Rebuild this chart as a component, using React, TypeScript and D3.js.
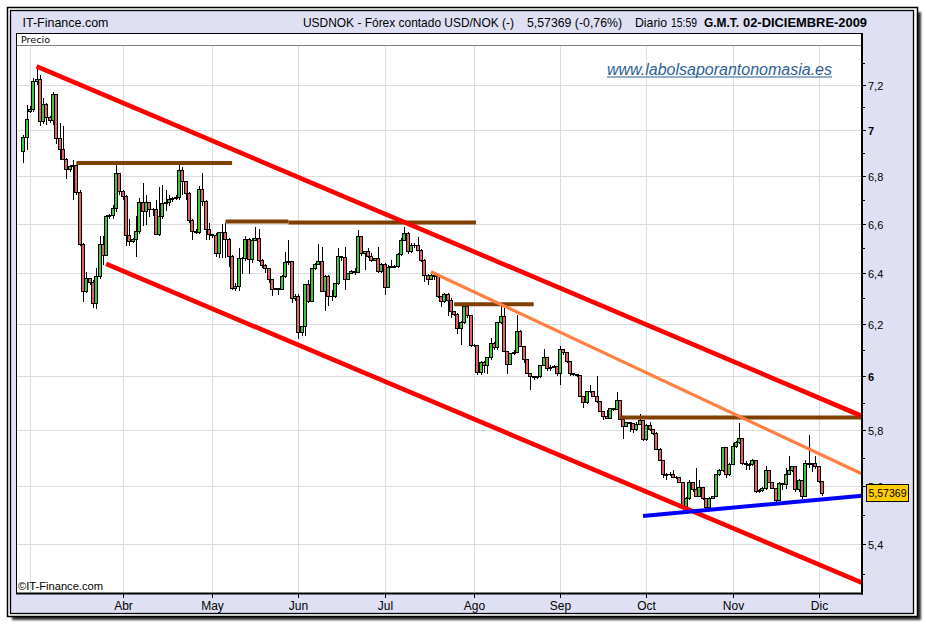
import { useEffect, useRef } from "react";
import * as d3 from "d3";

// open, high, low, close
type Candle = [number, number, number, number];

// USD/NOK daily candles, grouped by month
const febMar: Candle[] = [
  [6.904, 6.977, 6.856, 6.966], [6.966, 7.112, 6.914, 7.047], [7.08, 7.105, 7.076, 7.09],
  [7.09, 7.23, 7.08, 7.215], [7.215, 7.285, 7.2, 7.225], [7.225, 7.244, 7.017, 7.036],
  [7.036, 7.14, 7.025, 7.112], [7.112, 7.12, 7.02, 7.054], [7.054, 7.06, 7.03, 7.04],
  [7.04, 7.17, 7.02, 7.156], [7.156, 7.16, 6.94, 6.962], [6.962, 7.03, 6.87, 6.915],
  [6.915, 7.017, 6.87, 6.873], [6.873, 6.88, 6.79, 6.83], [6.83, 6.85, 6.82, 6.84],
  [6.84, 6.87, 6.7, 6.845], [6.845, 6.85, 6.72, 6.731], [6.731, 6.74, 6.51, 6.514],
  [6.514, 6.52, 6.284, 6.327], [6.327, 6.404, 6.318, 6.377], [6.377, 6.38, 6.35, 6.36],
  [6.36, 6.37, 6.26, 6.277], [6.277, 6.42, 6.257, 6.384], [6.384, 6.55, 6.377, 6.517],
  [6.517, 6.55, 6.43, 6.47], [6.47, 6.635, 6.467, 6.629], [6.629, 6.64, 6.62, 6.635],
  [6.635, 6.68, 6.62, 6.665], [6.665, 6.846, 6.65, 6.811], [6.811, 6.812, 6.72, 6.735],
];
const abr: Candle[] = [
  [6.735, 6.74, 6.7, 6.712], [6.712, 6.72, 6.508, 6.552], [6.552, 6.62, 6.508, 6.528],
  [6.528, 6.54, 6.52, 6.535], [6.535, 6.632, 6.466, 6.57], [6.57, 6.708, 6.56, 6.687],
  [6.687, 6.77, 6.59, 6.652], [6.652, 6.721, 6.597, 6.687], [6.687, 6.69, 6.63, 6.66],
  [6.66, 6.666, 6.632, 6.659], [6.659, 6.701, 6.556, 6.556], [6.556, 6.756, 6.549, 6.629],
  [6.629, 6.763, 6.62, 6.683], [6.683, 6.742, 6.652, 6.69], [6.69, 6.721, 6.673, 6.701],
  [6.701, 6.71, 6.69, 6.705], [6.705, 6.72, 6.698, 6.71], [6.71, 6.849, 6.698, 6.824],
  [6.824, 6.838, 6.721, 6.777], [6.777, 6.78, 6.7, 6.726], [6.726, 6.735, 6.604, 6.614],
  [6.614, 6.618, 6.535, 6.57], [6.57, 6.58, 6.556, 6.563], [6.563, 6.76, 6.556, 6.742],
  [6.742, 6.812, 6.673, 6.694], [6.694, 6.701, 6.535, 6.577], [6.577, 6.604, 6.535, 6.556],
];
const may: Candle[] = [
  [6.556, 6.56, 6.54, 6.55], [6.55, 6.563, 6.466, 6.48], [6.48, 6.566, 6.459, 6.563],
  [6.563, 6.6, 6.46, 6.566], [6.566, 6.604, 6.459, 6.535], [6.535, 6.542, 6.425, 6.466],
  [6.466, 6.473, 6.333, 6.339], [6.339, 6.36, 6.326, 6.346], [6.346, 6.5, 6.326, 6.459],
  [6.459, 6.466, 6.397, 6.46], [6.46, 6.55, 6.446, 6.535], [6.535, 6.542, 6.397, 6.455],
  [6.455, 6.54, 6.44, 6.532], [6.532, 6.586, 6.53, 6.539], [6.539, 6.58, 6.445, 6.451],
  [6.451, 6.455, 6.42, 6.431], [6.431, 6.435, 6.4, 6.418], [6.418, 6.42, 6.36, 6.372],
  [6.372, 6.375, 6.307, 6.333], [6.333, 6.34, 6.33, 6.336], [6.336, 6.34, 6.314, 6.335],
  [6.335, 6.39, 6.33, 6.385], [6.385, 6.485, 6.38, 6.441], [6.441, 6.532, 6.43, 6.445],
  [6.445, 6.448, 6.281, 6.297], [6.297, 6.316, 6.29, 6.307],
];
const jun: Candle[] = [
  [6.307, 6.316, 6.139, 6.165], [6.165, 6.19, 6.152, 6.187], [6.187, 6.356, 6.152, 6.352],
  [6.352, 6.372, 6.28, 6.288], [6.288, 6.42, 6.285, 6.418], [6.418, 6.44, 6.41, 6.435],
  [6.435, 6.519, 6.43, 6.445], [6.445, 6.505, 6.326, 6.326], [6.326, 6.39, 6.249, 6.385],
  [6.385, 6.39, 6.268, 6.307], [6.307, 6.33, 6.29, 6.305], [6.305, 6.36, 6.3, 6.356],
  [6.356, 6.499, 6.35, 6.465], [6.465, 6.47, 6.45, 6.462], [6.462, 6.505, 6.333, 6.374],
  [6.374, 6.4, 6.37, 6.397], [6.397, 6.41, 6.395, 6.404], [6.404, 6.418, 6.391, 6.401],
  [6.401, 6.573, 6.4, 6.549], [6.549, 6.549, 6.47, 6.478], [6.478, 6.49, 6.411, 6.485],
  [6.485, 6.5, 6.46, 6.465], [6.465, 6.48, 6.445, 6.451], [6.451, 6.46, 6.45, 6.458],
  [6.458, 6.505, 6.4, 6.404], [6.404, 6.44, 6.4, 6.435],
];
const jul: Candle[] = [
  [6.435, 6.44, 6.314, 6.343], [6.343, 6.43, 6.34, 6.422], [6.422, 6.451, 6.418, 6.424],
  [6.424, 6.43, 6.418, 6.424], [6.424, 6.48, 6.42, 6.476], [6.476, 6.54, 6.47, 6.532],
  [6.532, 6.586, 6.53, 6.559], [6.559, 6.566, 6.478, 6.485], [6.485, 6.52, 6.48, 6.51],
  [6.51, 6.52, 6.5, 6.512], [6.512, 6.545, 6.49, 6.492], [6.492, 6.495, 6.445, 6.451],
  [6.451, 6.455, 6.365, 6.391], [6.391, 6.395, 6.35, 6.372], [6.372, 6.395, 6.37, 6.391],
  [6.391, 6.395, 6.37, 6.385], [6.385, 6.39, 6.3, 6.307], [6.307, 6.31, 6.266, 6.288],
  [6.288, 6.32, 6.28, 6.314], [6.314, 6.32, 6.23, 6.29], [6.29, 6.3, 6.222, 6.246],
  [6.246, 6.25, 6.23, 6.236], [6.236, 6.24, 6.158, 6.181], [6.181, 6.21, 6.119, 6.205],
  [6.205, 6.27, 6.2, 6.268], [6.268, 6.282, 6.22, 6.232], [6.232, 6.235, 6.11, 6.117],
];
const ago: Candle[] = [
  [6.117, 6.12, 6.11, 6.115], [6.115, 6.119, 6.004, 6.013], [6.013, 6.055, 6.005, 6.051],
  [6.051, 6.055, 6.01, 6.04], [6.04, 6.07, 6.008, 6.068], [6.068, 6.145, 6.06, 6.122],
  [6.122, 6.128, 6.1, 6.106], [6.106, 6.205, 6.1, 6.203], [6.203, 6.268, 6.2, 6.229],
  [6.229, 6.26, 6.09, 6.094], [6.094, 6.094, 6.008, 6.042], [6.042, 6.085, 6.04, 6.083],
  [6.083, 6.1, 6.08, 6.09], [6.09, 6.232, 6.085, 6.168], [6.168, 6.177, 6.11, 6.113],
  [6.113, 6.113, 6.049, 6.062], [6.062, 6.065, 6.008, 6.01], [6.01, 6.012, 5.948, 5.998],
  [5.998, 6.0, 5.985, 5.994], [5.994, 6.0, 5.99, 5.998], [5.998, 6.04, 5.991, 6.038],
  [6.038, 6.103, 6.036, 6.068], [6.068, 6.07, 6.02, 6.029], [6.029, 6.04, 6.02, 6.033],
  [6.033, 6.04, 6.03, 6.036], [6.036, 6.038, 6.0, 6.01],
];
const sep: Candle[] = [
  [6.01, 6.115, 5.967, 6.1], [6.1, 6.1, 6.08, 6.087], [6.087, 6.087, 6.05, 6.055],
  [6.055, 6.055, 6.0, 6.008], [6.008, 6.008, 5.998, 6.004], [6.004, 6.005, 5.995, 6.0],
  [6.0, 6.0, 5.92, 5.923], [5.923, 5.923, 5.88, 5.899], [5.899, 5.945, 5.895, 5.942],
  [5.942, 5.967, 5.935, 5.94], [5.94, 5.942, 5.92, 5.923], [5.923, 5.998, 5.9, 5.905],
  [5.905, 5.905, 5.865, 5.868], [5.868, 5.868, 5.837, 5.849], [5.849, 5.874, 5.84, 5.843],
  [5.843, 5.88, 5.84, 5.877], [5.877, 5.88, 5.87, 5.875], [5.875, 5.938, 5.875, 5.909],
  [5.909, 5.909, 5.835, 5.839], [5.839, 5.839, 5.769, 5.812], [5.812, 5.83, 5.81, 5.827],
  [5.827, 5.83, 5.794, 5.825], [5.825, 5.825, 5.79, 5.8], [5.8, 5.83, 5.795, 5.82],
  [5.82, 5.857, 5.818, 5.836], [5.836, 5.836, 5.76, 5.764],
];
const oct: Candle[] = [
  [5.764, 5.82, 5.76, 5.818], [5.818, 5.83, 5.795, 5.8], [5.8, 5.8, 5.782, 5.788],
  [5.788, 5.794, 5.728, 5.731], [5.731, 5.735, 5.688, 5.691], [5.691, 5.691, 5.627, 5.639],
  [5.639, 5.645, 5.621, 5.64], [5.64, 5.65, 5.635, 5.642], [5.642, 5.657, 5.627, 5.631],
  [5.631, 5.635, 5.625, 5.63], [5.63, 5.631, 5.61, 5.612], [5.612, 5.612, 5.52, 5.526],
  [5.526, 5.56, 5.52, 5.556], [5.556, 5.621, 5.55, 5.612], [5.612, 5.612, 5.58, 5.586],
  [5.586, 5.663, 5.56, 5.562], [5.562, 5.621, 5.56, 5.595], [5.595, 5.595, 5.55, 5.556],
  [5.556, 5.556, 5.517, 5.524], [5.524, 5.56, 5.52, 5.556], [5.556, 5.565, 5.555, 5.562],
  [5.562, 5.64, 5.56, 5.639], [5.639, 5.66, 5.635, 5.654], [5.654, 5.74, 5.65, 5.735],
  [5.735, 5.735, 5.627, 5.639], [5.639, 5.68, 5.635, 5.675],
];
const nov: Candle[] = [
  [5.675, 5.752, 5.675, 5.74], [5.74, 5.76, 5.735, 5.756], [5.756, 5.824, 5.75, 5.77],
  [5.77, 5.77, 5.675, 5.679], [5.679, 5.69, 5.657, 5.675], [5.675, 5.68, 5.655, 5.675],
  [5.675, 5.695, 5.67, 5.691], [5.691, 5.693, 5.575, 5.58], [5.58, 5.59, 5.574, 5.585],
  [5.585, 5.595, 5.58, 5.592], [5.592, 5.669, 5.585, 5.655], [5.655, 5.655, 5.61, 5.612],
  [5.612, 5.612, 5.59, 5.592], [5.592, 5.594, 5.545, 5.55], [5.55, 5.615, 5.55, 5.61],
  [5.61, 5.612, 5.586, 5.605], [5.605, 5.663, 5.59, 5.642], [5.642, 5.705, 5.64, 5.655],
  [5.655, 5.67, 5.65, 5.667], [5.667, 5.667, 5.58, 5.586], [5.586, 5.625, 5.58, 5.619],
  [5.619, 5.619, 5.555, 5.564], [5.564, 5.691, 5.56, 5.679], [5.679, 5.782, 5.665, 5.675],
  [5.675, 5.68, 5.651, 5.679], [5.679, 5.705, 5.66, 5.667],
];
const dic: Candle[] = [
  [5.667, 5.667, 5.61, 5.616], [5.616, 5.616, 5.564, 5.57369],
];

const candles: Candle[] = [...febMar, ...abr, ...may, ...jun, ...jul, ...ago, ...sep, ...oct, ...nov, ...dic];

// index of the first candle of each month, and its axis label
const monthStartIdx = [2, 30, 57, 83, 109, 136, 162, 188, 214, 240];
const monthLabels = ["", "Abr", "May", "Jun", "Jul", "Ago", "Sep", "Oct", "Nov", "Dic"];

const yMajorTicks = [5.4, 5.6, 5.8, 6, 6.2, 6.4, 6.6, 6.8, 7, 7.2];
const yMinorTicks = [5.3, 5.5, 5.7, 5.9, 6.1, 6.3, 6.5, 6.7, 6.9, 7.1, 7.3];

// hand drawn trend lines, [candle index, price]
const channelTop: [number, number][] = [[4, 7.285], [253, 5.851]];
const channelBottom: [number, number][] = [[25, 6.436], [253, 5.271]];
const orangeTrend: [number, number][] = [[123, 6.405], [253, 5.643]];
const blueSupport: [number, number][] = [[187, 5.496], [253, 5.566]];
const brownLevels: [number, number][][] = [
  [[16, 6.857], [63, 6.857]],
  [[61, 6.61], [80, 6.61]],
  [[80, 6.605], [136.6, 6.605]],
  [[130, 6.276], [154, 6.276]],
  [[180, 5.846], [253, 5.846]],
];

const lastPrice = 5.57369;
const lastPriceLabel = "5,57369";

const narrow = "'Liberation Sans Narrow', 'Arial Narrow', 'Liberation Sans', Arial, sans-serif";
const sans = "'Liberation Sans', Arial, sans-serif";

export default function App() {
  const svgRef = useRef<SVGSVGElement | null>(null);

  useEffect(() => {
    if (!svgRef.current) return;
    const svg = d3.select(svgRef.current);
    svg.selectAll("*").remove();

    const left = 16, right = 862, top = 46, bottom = 593;

    const x = d3.scaleLinear().domain([0, candles.length - 1]).range([23.3, 822]);
    const y = d3.scaleLog().domain([5.4, 7.2]).range([544, 85]);

    const defs = svg.append("defs");
    defs.append("filter").attr("id", "shadow")
      .append("feGaussianBlur").attr("stdDeviation", 1.2);
    defs.append("clipPath").attr("id", "plotClip")
      .append("rect").attr("x", left).attr("y", top)
      .attr("width", right - left).attr("height", bottom - top);

    // frame with drop shadow
    svg.append("rect").attr("x", 12).attr("y", 12).attr("width", 909).attr("height", 608)
      .attr("fill", "#333").attr("filter", "url(#shadow)");
    svg.append("rect").attr("x", 7.5).attr("y", 7.5).attr("width", 910).attr("height", 609)
      .attr("fill", "#fff").attr("stroke", "#000").attr("stroke-width", 1.5);
    svg.append("rect").attr("x", 10.5).attr("y", 10.5).attr("width", 903).attr("height", 603)
      .attr("fill", "#dfe0f4").attr("stroke", "#000").attr("stroke-width", 1.3);

    // header
    const header = [
      { t: "IT-Finance.com", x: 22.5, len: 86, w: "normal", s: 13 },
      { t: "USDNOK - Fórex contado USD/NOK (-)", x: 303, len: 211, w: "normal", s: 13 },
      { t: "5,57369 (-0,76%)", x: 527, len: 95, w: "normal", s: 13 },
      { t: "Diario", x: 635, len: 32, w: "normal", s: 13 },
      { t: "15:59", x: 671, len: 26, w: "normal", s: 13 },
      { t: "G.M.T.", x: 704, len: 35, w: "bold", s: 12 },
      { t: "02-DICIEMBRE-2009", x: 743, len: 124, w: "bold", s: 12 },
    ];
    header.forEach((h) => {
      svg.append("text").text(h.t)
        .attr("x", h.x).attr("y", 26.5)
        .attr("font-family", narrow).attr("font-size", h.s).attr("font-weight", h.w)
        .attr("textLength", h.len).attr("lengthAdjust", "spacingAndGlyphs")
        .attr("fill", "#000");
    });

    // "Precio" strip and plot area
    svg.append("rect").attr("x", left + 0.5).attr("y", 33.5).attr("width", right - left).attr("height", 12.5)
      .attr("fill", "#fff").attr("stroke", "#000");
    svg.append("text").text("Precio").attr("x", 21).attr("y", 42.5)
      .attr("font-family", "'DejaVu Sans', Verdana, sans-serif").attr("font-size", 8.5)
      .attr("textLength", 29).attr("lengthAdjust", "spacingAndGlyphs");
    svg.append("rect").attr("x", left).attr("y", top).attr("width", right - left).attr("height", bottom - top)
      .attr("fill", "#fff");

    // grid
    const grid = svg.append("g").attr("shape-rendering", "crispEdges")
      .attr("stroke", "#dcdcdc").attr("stroke-width", 1);
    yMajorTicks.forEach((v) => {
      const yy = Math.round(y(v)) + 0.5;
      grid.append("line").attr("x1", left).attr("x2", right).attr("y1", yy).attr("y2", yy);
    });
    monthStartIdx.forEach((idx) => {
      const xx = Math.round(x(idx)) + 0.5;
      grid.append("line").attr("x1", xx).attr("x2", xx).attr("y1", top).attr("y2", bottom);
    });

    // watermark
    svg.append("text").text("www.labolsaporantonomasia.es")
      .attr("x", 607).attr("y", 74.5)
      .attr("font-family", sans).attr("font-style", "italic").attr("font-size", 16)
      .attr("textLength", 225).attr("lengthAdjust", "spacingAndGlyphs")
      .attr("fill", "#2d5e96");
    svg.append("line").attr("x1", 607).attr("x2", 832).attr("y1", 77).attr("y2", 77)
      .attr("stroke", "#2d5e96").attr("stroke-width", 1);

    svg.append("text").text("©IT-Finance.com").attr("x", 18).attr("y", 590)
      .attr("font-family", narrow).attr("font-size", 11)
      .attr("textLength", 85).attr("lengthAdjust", "spacingAndGlyphs");

    // candles
    const gC = svg.append("g").attr("clip-path", "url(#plotClip)").attr("shape-rendering", "crispEdges");
    candles.forEach(([o, h, l, c], i) => {
      const cx = Math.round(x(i));
      gC.append("line")
        .attr("x1", cx + 0.5).attr("x2", cx + 0.5)
        .attr("y1", y(h)).attr("y2", y(l))
        .attr("stroke", "#000").attr("stroke-width", 1);
      const yTop = y(Math.max(o, c));
      const yBot = y(Math.min(o, c));
      gC.append("rect")
        .attr("x", cx - 1.5).attr("y", yTop)
        .attr("width", 3).attr("height", Math.max(yBot - yTop, 0.6))
        .attr("fill", c >= o ? "#3fc63f" : "#e06262")
        .attr("stroke", "#000").attr("stroke-width", 1);
    });

    // trend lines
    const gL = svg.append("g").attr("clip-path", "url(#plotClip)").attr("fill", "none");
    const line = d3.line<[number, number]>().x((d) => x(d[0])).y((d) => y(d[1]));
    brownLevels.forEach((seg) => {
      gL.append("path").attr("d", line(seg)).attr("stroke", "#7f3f00").attr("stroke-width", 4);
    });
    gL.append("path").attr("d", line(orangeTrend)).attr("stroke", "#ff8040").attr("stroke-width", 3.2);
    gL.append("path").attr("d", line(channelTop)).attr("stroke", "#ff0000").attr("stroke-width", 4.6);
    gL.append("path").attr("d", line(channelBottom)).attr("stroke", "#ff0000").attr("stroke-width", 4.6);
    gL.append("path").attr("d", line(blueSupport)).attr("stroke", "#0000ff").attr("stroke-width", 4);

    // plot borders
    svg.append("line").attr("x1", left + 0.5).attr("x2", left + 0.5).attr("y1", 33).attr("y2", bottom + 1)
      .attr("stroke", "#000").attr("stroke-width", 1);
    svg.append("line").attr("x1", right).attr("x2", right).attr("y1", 33).attr("y2", bottom + 1.5)
      .attr("stroke", "#000").attr("stroke-width", 2);
    svg.append("line").attr("x1", left).attr("x2", right + 1).attr("y1", bottom + 0.5).attr("y2", bottom + 0.5)
      .attr("stroke", "#000").attr("stroke-width", 2);

    // y axis (log scale)
    const gy = svg.append("g").attr("shape-rendering", "crispEdges");
    yMinorTicks.forEach((v) => {
      const yy = Math.round(y(v)) + 0.5;
      gy.append("line").attr("x1", right).attr("x2", right + 3).attr("y1", yy).attr("y2", yy).attr("stroke", "#000");
    });
    yMajorTicks.forEach((v) => {
      const yy = Math.round(y(v)) + 0.5;
      gy.append("line").attr("x1", right).attr("x2", right + 4).attr("y1", yy).attr("y2", yy).attr("stroke", "#000");
      const isInt = Number.isInteger(v);
      svg.append("text").text(isInt ? String(v) : v.toFixed(1).replace(".", ","))
        .attr("x", 868).attr("y", yy + 4)
        .attr("font-family", sans).attr("font-size", 11)
        .attr("font-weight", isInt ? "bold" : "normal").attr("fill", "#000");
    });

    // x axis
    monthStartIdx.forEach((idx, k) => {
      if (!monthLabels[k]) return;
      const xx = Math.round(x(idx)) + 0.5;
      gy.append("line").attr("x1", xx).attr("x2", xx).attr("y1", bottom + 1).attr("y2", bottom + 5).attr("stroke", "#000");
      svg.append("text").text(monthLabels[k])
        .attr("x", xx).attr("y", 609.5).attr("text-anchor", "middle")
        .attr("font-family", narrow).attr("font-size", 12).attr("fill", "#000");
    });

    // last price label (covers the 5,6 tick label as in the original)
    const py = y(lastPrice);
    svg.append("rect").attr("x", 866.5).attr("y", Math.round(py) - 8.5).attr("width", 42).attr("height", 17)
      .attr("fill", "#ffcc00").attr("stroke", "#000").attr("stroke-width", 1);
    svg.append("text").text(lastPriceLabel)
      .attr("x", 868.5).attr("y", Math.round(py) + 4)
      .attr("font-family", sans).attr("font-size", 11)
      .attr("textLength", 38).attr("lengthAdjust", "spacingAndGlyphs").attr("fill", "#000");
  }, []);

  return (
    <svg
      ref={svgRef}
      width={926}
      height={626}
      style={{ position: "absolute", left: 0, top: 0, background: "#fff" }}
    />
  );
}
